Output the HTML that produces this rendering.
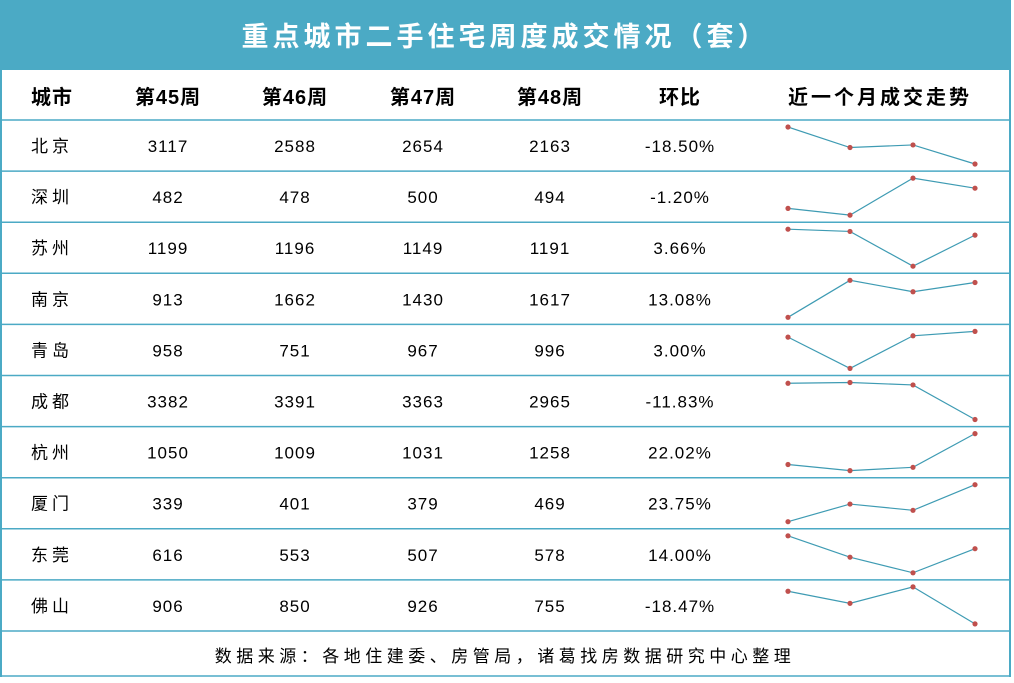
<!DOCTYPE html>
<html><head><meta charset="utf-8">
<style>
body{margin:0;background:#fff;width:1014px;height:678px;overflow:hidden;font-family:"Liberation Sans","Noto Sans CJK SC",sans-serif;}
#wrap{position:absolute;left:0;top:0;width:1014px;height:678px;}
</style></head>
<body>
<div id="wrap">
<svg id="svg" width="1014" height="678" xmlns="http://www.w3.org/2000/svg">
<rect x="0" y="0" width="1011" height="70" fill="#4BAAC5"/>
<text x="505" y="46" text-anchor="middle" fill="#fff" font-size="27" font-weight="bold" letter-spacing="4" font-family="Liberation Sans, Noto Sans CJK SC, sans-serif">重点城市二手住宅周度成交情况（套）</text>
<g id="grid"></g>
<g id="cells"></g>
</svg>
</div>
<script>
const cities=["北京","深圳","苏州","南京","青岛","成都","杭州","厦门","东莞","佛山"];
const w45=[3117,482,1199,913,958,3382,1050,339,616,906];
const w46=[2588,478,1196,1662,751,3391,1009,401,553,850];
const w47=[2654,500,1149,1430,967,3363,1031,379,507,926];
const w48=[2163,494,1191,1617,996,2965,1258,469,578,755];
const ratio=["-18.50%","-1.20%","3.66%","13.08%","3.00%","-11.83%","22.02%","23.75%","14.00%","-18.47%"];
const headers=["城市","第45周","第46周","第47周","第48周","环比","近一个月成交走势"];
const NS="http://www.w3.org/2000/svg";
const grid=document.getElementById('grid'), cells=document.getElementById('cells');
const colX=[52,168,295,423,550,680,880];
const rowTop=120,rowH=51.1;
function el(tag,attrs,parent){const e=document.createElementNS(NS,tag);for(const k in attrs)e.setAttribute(k,attrs[k]);parent.appendChild(e);return e;}
let b=el('line',{x1:1,y1:70,x2:1,y2:677,stroke:'#4BAAC5','stroke-width':2},grid);

b=el('line',{x1:1010,y1:70,x2:1010,y2:677,stroke:'#4BAAC5','stroke-width':2},grid);

for(let i=0;i<=11;i++){
  const y=i<11?rowTop+i*rowH:676;
  const l=el('line',{x1:0,y1:y,x2:1011,y2:y,stroke:'#4BAAC5','stroke-width':1.5},grid);
  
  
}
headers.forEach((h,i)=>{
  const t=el('text',{x:colX[i],y:104,'text-anchor':'middle','font-size':20,'font-weight':'bold',fill:'#000','letter-spacing':i==6?3:1},cells);
  t.textContent=h;
  
  
});
const sx=[788,850,913,975];
cities.forEach((c,r)=>{
  const top=rowTop+r*rowH, cy=top+32;
  const vals=[w45[r],w46[r],w47[r],w48[r]];
  const texts=[c,...vals.map(String),ratio[r]];
  texts.forEach((s,i)=>{
    const t=el('text',{x:colX[i],y:cy,'text-anchor':'middle','font-size':17,fill:'#000','letter-spacing':i==0?4:1},cells);
    t.textContent=s;
    
    
  });
  const mn=Math.min(...vals),mx=Math.max(...vals);
  const ys=vals.map(v=>top+44-(v-mn)/(mx-mn||1)*37);
  const pl=el('polyline',{points:sx.map((x,i)=>x+','+ys[i]).join(' '),fill:'none',stroke:'#3E9BB3','stroke-width':1.2},cells);
  
  
  sx.forEach((x,i)=>{
    const d=el('circle',{cx:x,cy:ys[i],r:2.6,fill:'#C0504D'},cells);
    
    
  });
});
const f=el('text',{x:505,y:662,'text-anchor':'middle','font-size':17,fill:'#000','letter-spacing':4.5},cells);
f.textContent="数据来源：各地住建委、房管局，诸葛找房数据研究中心整理";


</script>
</body></html>
